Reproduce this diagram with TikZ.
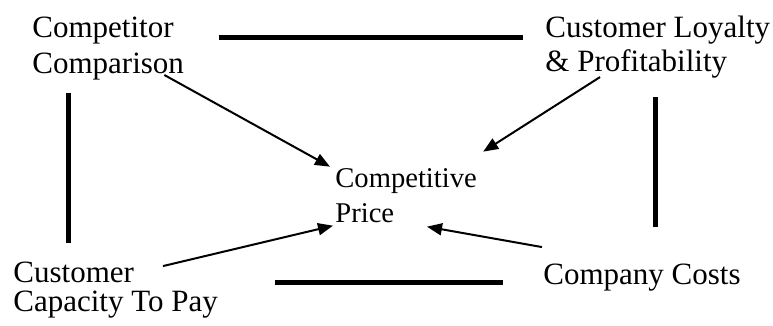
\documentclass[tikz,border=0pt]{standalone}
\usepackage{fontspec}
\setmainfont{Liberation Serif}
\usetikzlibrary{calc,arrows.meta}

\begin{document}
\begin{tikzpicture}[x=0.5pt, y=-0.5pt]
    % factor style
    \tikzstyle{factor}=[
      inner sep=0,
      anchor=base west,
      align=left,
      font=\fontsize{15.5}{18}\selectfont
    ]
    \tikzstyle{link}=[line width=2.5pt]
    \tikzstyle{push}=[-{Triangle[length=7.5pt,width=6pt]}, line width=1pt]

    \useasboundingbox (0,0) rectangle (773,326);

    % Top row
    \node[factor] (A) at (32,74) {Competitor\\Comparison};
    \node[factor, font=\fontsize{15.5}{17}\selectfont] (B) at (545,72) {Customer Loyalty\\\& Profitability};

    % Bottom row
    \node[factor, font=\fontsize{15.5}{14.5}\selectfont] (C) at (13,312) {Customer\\Capacity To Pay};
    \node[factor] (D) at (543,285) {Company Costs};

    % Centre
    \node[factor, font=\fontsize{14.3}{17.5}\selectfont] (E) at (335,223) {Competitive\\Price};

    % Frame lines between corners
    \draw[link] ($(A.base east)+(35,-36)$) -- ($(B.base west)+(-22,-34)$);
    \draw[link] ($(A.south west)+(36,12)$) -- ($(C.north west)+(55,-19)$);
    \draw[link] ($(B.south west)+(110,18)$) -- ($(D.north west)+(112,-37)$);
    \draw[link] ($(C.base east)+(57,-29)$) -- ($(D.base west)+(-40,-2)$);

    % Arrows into the price
    \draw[push] ($(A.south east)+(-20,-6)$) -- ($(E.north west)+(-5,-2)$);
    \draw[push] ($(B.south west)+(55,-2)$) -- ($(E.north east)+(6,-17)$);
    \draw[push] ($(C.north west)+(150,4)$) -- ($(E.south west)+(-2,2)$);
    \draw[push] ($(D.north west)+(-1,-17)$) -- ($(E.south west)+(92,3)$);
\end{tikzpicture}
\end{document}
